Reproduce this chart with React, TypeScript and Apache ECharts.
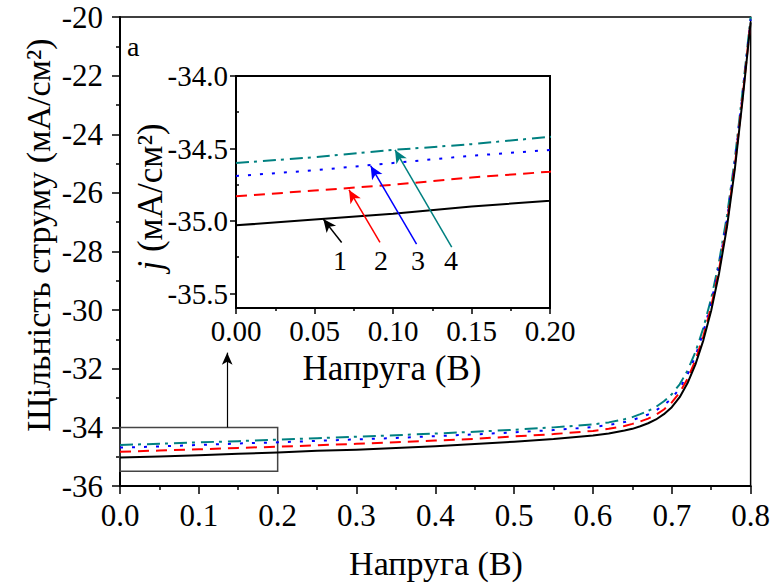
import React, { useEffect, useRef } from "react";
import * as echarts from "echarts";

// Voltage (V)
const voltage = [0, 0.05, 0.1, 0.15, 0.2, 0.25, 0.3, 0.35, 0.4, 0.45, 0.5, 0.55, 0.6, 0.62, 0.64, 0.65, 0.66, 0.67, 0.68, 0.69, 0.7, 0.71, 0.72, 0.73, 0.74, 0.75, 0.76, 0.77, 0.78, 0.79, 0.8];
// Current density (mA/cm2), curves 1..4
const current1 = [-35.03, -34.99, -34.95, -34.9, -34.86, -34.8, -34.76, -34.7, -34.64, -34.57, -34.49, -34.4, -34.28, -34.21, -34.11, -34.05, -33.96, -33.86, -33.73, -33.55, -33.31, -32.97, -32.49, -31.85, -31.03, -30.01, -28.74, -27.16, -25.18, -22.78, -20.18];
const current2 = [-34.83, -34.79, -34.75, -34.7, -34.66, -34.61, -34.56, -34.51, -34.45, -34.39, -34.31, -34.23, -34.12, -34.05, -33.95, -33.88, -33.8, -33.7, -33.57, -33.39, -33.15, -32.81, -32.34, -31.71, -30.89, -29.87, -28.61, -27.04, -25.06, -22.68, -20.13];
const current3 = [-34.69, -34.65, -34.6, -34.55, -34.51, -34.46, -34.41, -34.36, -34.3, -34.24, -34.17, -34.09, -33.99, -33.92, -33.82, -33.75, -33.66, -33.56, -33.42, -33.24, -33.01, -32.67, -32.2, -31.57, -30.75, -29.74, -28.48, -26.91, -24.93, -22.58, -20.08];
const current4 = [-34.6, -34.56, -34.51, -34.47, -34.42, -34.37, -34.32, -34.27, -34.21, -34.15, -34.08, -34.0, -33.9, -33.83, -33.72, -33.65, -33.55, -33.44, -33.3, -33.11, -32.87, -32.53, -32.06, -31.43, -30.61, -29.6, -28.34, -26.78, -24.83, -22.48, -20.0];

// Tick values
const insetYLabels = [-35.5, -35.0, -34.5, -34.0];
const insetYMinor = [-35.25, -34.75, -34.25];

// Annotations (data coordinates)
const zoomBox = [[0, -34], [0.2, -35.5]];
const zoomArrow = [[0.136, -34], [0.136, -31.45]];
const arrowTails = [[0.0673, -35.148], [0.0917, -35.148], [0.115, -35.16], [0.1374, -35.18]];
const arrowTips = [[0.0556, -34.987], [0.072, -34.786], [0.0858, -34.62], [0.1013, -34.51]];
const curveLabels = ["1", "2", "3", "4"];
const labelPos = [[0.0662, -35.27], [0.0924, -35.27], [0.116, -35.27], [0.137, -35.27]];

const FONT = '"Liberation Serif", "Times New Roman", serif';
const colors = ["#000000", "#ff0000", "#0000ff", "#008080"];
const lineTypes: any[] = ["solid", [11, 7], [3, 9], [13, 5, 3, 6]];
const currents = [current1, current2, current3, current4];

export default function App() {
  const ref = useRef<HTMLDivElement>(null);
  useEffect(() => {
    document.body.style.margin = "0";
    const chart = echarts.init(ref.current!, null, { renderer: "svg" });
    const pairs = (arr: number[]) => voltage.map((v, i) => [v, arr[i]]);

    const tickStyle = { color: "#000", width: 1.5 };
    const mainSeries = currents.map((c, i) => {
      const s: any = {
        type: "line",
        xAxisIndex: 0,
        yAxisIndex: 0,
        data: pairs(c),
        showSymbol: false,
        symbol: "none",
        lineStyle: { color: colors[i], width: 2, type: lineTypes[i], join: "round" },
        z: 3 + (3 - i),
        silent: true,
      };
      if (i === 0) {
        s.markArea = {
          silent: true,
          itemStyle: { color: "rgba(0,0,0,0)", borderColor: "#444", borderWidth: 1.5 },
          label: { show: false },
          data: [[{ coord: zoomBox[0] }, { coord: zoomBox[1] }]],
        };
        s.markLine = {
          silent: true,
          symbol: ["none", "arrow"],
          symbolSize: [8, 12],
          label: { show: false },
          lineStyle: { color: "#000", width: 1.2, type: "solid" },
          data: [[{ coord: zoomArrow[0] }, { coord: zoomArrow[1] }]],
        };
      }
      return s;
    });
    const insetSeries = currents.map((c, i) => ({
      type: "line",
      xAxisIndex: 1,
      yAxisIndex: 1,
      data: pairs(c),
      showSymbol: false,
      symbol: "none",
      clip: true,
      silent: true,
      lineStyle: { color: colors[i], width: 2, type: lineTypes[i] },
      markLine: {
        silent: true,
        symbol: ["none", "arrow"],
        symbolSize: [9, 13],
        label: { show: false },
        lineStyle: { color: colors[i], width: 1.5, type: "solid" },
        data: [[{ coord: arrowTails[i] }, { coord: arrowTips[i] }]],
      },
      markPoint: {
        silent: true,
        symbol: "rect",
        symbolSize: 1,
        itemStyle: { color: "rgba(0,0,0,0)" },
        label: { show: true, position: "inside", formatter: curveLabels[i], color: "#000", fontSize: 28, fontFamily: FONT },
        data: [{ coord: labelPos[i] }],
      },
    }));

    chart.setOption({
      animation: false,
      textStyle: { fontFamily: FONT },
      grid: [
        { left: 120, top: 17, width: 632, height: 469, show: true, borderColor: "#000", borderWidth: 1.5, backgroundColor: "rgba(0,0,0,0)" },
        { left: 236, top: 76, width: 314, height: 232, show: true, borderColor: "#000", borderWidth: 2, backgroundColor: "#fff" },
      ],
      xAxis: [
        {
          type: "value", gridIndex: 0, min: 0, max: 0.8, interval: 0.1,
          axisLine: { show: true, onZero: false, lineStyle: { color: "#000", width: 2 } },
          axisTick: { show: true, length: 8, lineStyle: tickStyle },
          minorTick: { show: true, splitNumber: 2, length: 4, lineStyle: tickStyle },
          axisLabel: { formatter: (v: number) => v.toFixed(1), fontSize: 31, color: "#000", margin: 14, fontFamily: FONT },
          splitLine: { show: false },
        },
        {
          type: "value", gridIndex: 1, min: 0, max: 0.2, interval: 0.05,
          axisLine: { show: true, onZero: false, lineStyle: { color: "#000", width: 2 } },
          axisTick: { show: true, length: 6, lineStyle: tickStyle },
          minorTick: { show: true, splitNumber: 2, length: 3, lineStyle: tickStyle },
          axisLabel: { formatter: (v: number) => v.toFixed(2), fontSize: 29, color: "#000", margin: 8, fontFamily: FONT },
          splitLine: { show: false },
        },
      ],
      yAxis: [
        {
          type: "value", gridIndex: 0, min: -36, max: -20, interval: 2,
          axisLine: { show: true, onZero: false, lineStyle: { color: "#000", width: 2 } },
          axisTick: { show: true, length: 8, lineStyle: tickStyle },
          minorTick: { show: true, splitNumber: 2, length: 4, lineStyle: tickStyle },
          axisLabel: { formatter: (v: number) => String(v), fontSize: 31, color: "#000", margin: 17, fontFamily: FONT },
          splitLine: { show: false },
        },
        {
          type: "value", gridIndex: 1, min: -35.6, max: -34,
          axisLine: { show: true, onZero: false, lineStyle: { color: "#000", width: 2 } },
          axisTick: { show: true, length: 6, lineStyle: tickStyle, customValues: insetYLabels },
          axisLabel: { customValues: insetYLabels, formatter: (v: number) => v.toFixed(1), fontSize: 29, color: "#000", margin: 8, fontFamily: FONT },
          splitLine: { show: false },
        },
        {
          type: "value", gridIndex: 1, min: -35.6, max: -34,
          axisLine: { show: false },
          axisTick: { show: true, length: 3, lineStyle: tickStyle, customValues: insetYMinor },
          axisLabel: { show: false },
          splitLine: { show: false },
        },
      ],
      graphic: [
        {
          type: "text", x: 38, y: 235, rotation: Math.PI / 2,
          style: { text: "Щільність струму (мА/см²)", font: `34px ${FONT}`, fontSize: 34, fontFamily: FONT, fill: "#000", align: "center", verticalAlign: "middle", textAlign: "center", textVerticalAlign: "middle" },
        },
        {
          type: "text", x: 436, y: 563,
          style: { text: "Напруга (В)", font: `34px ${FONT}`, fontSize: 34, fontFamily: FONT, fill: "#000", align: "center", verticalAlign: "middle", textAlign: "center", textVerticalAlign: "middle" },
        },
        {
          type: "text", x: 127, y: 46,
          style: { text: "a", font: `28px ${FONT}`, fontSize: 28, fontFamily: FONT, fill: "#000", align: "left", verticalAlign: "middle", textAlign: "left", textVerticalAlign: "middle" },
        },
        {
          type: "text", x: 392, y: 368,
          style: { text: "Напруга (В)", font: `35px ${FONT}`, fontSize: 35, fontFamily: FONT, fill: "#000", align: "center", verticalAlign: "middle", textAlign: "center", textVerticalAlign: "middle" },
        },
        {
          type: "text", x: 150, y: 197, rotation: Math.PI / 2,
          style: {
            text: "{i|j} (мА/см²)", font: `35px ${FONT}`, fontSize: 35, fontFamily: FONT, fill: "#000",
            align: "center", verticalAlign: "middle", textAlign: "center", textVerticalAlign: "middle",
            rich: { i: { fontStyle: "italic", fontSize: 35, fontFamily: FONT, fill: "#000" } },
          },
        },
      ],
      series: [...mainSeries, ...insetSeries],
    });
    return () => chart.dispose();
  }, []);
  return <div ref={ref} style={{ width: 773, height: 583 }} />;
}
